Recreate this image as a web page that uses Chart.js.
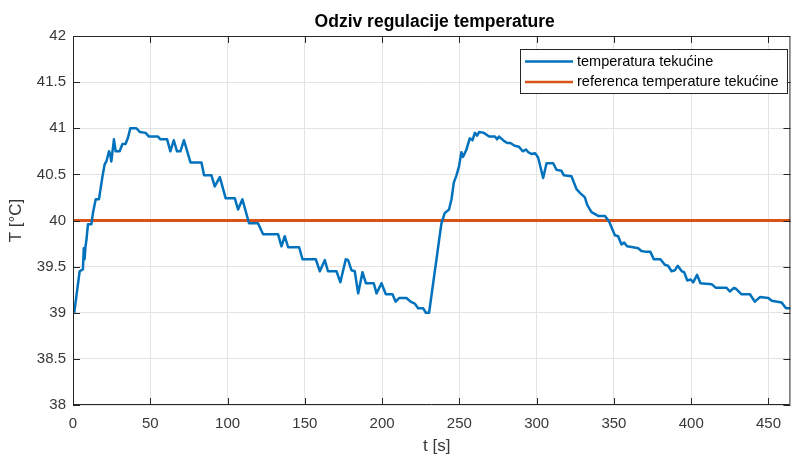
<!DOCTYPE html>
<html>
<head>
<meta charset="utf-8">
<script src="https://cdn.jsdelivr.net/npm/chart.js@4/dist/chart.umd.min.js"></script>
<style>
html,body{margin:0;padding:0;background:#fff;}
#wrap{width:791px;height:458px;position:relative;}
</style>
</head>
<body>
<div id="wrap"><canvas id="c" width="791" height="458"></canvas></div>
<script>
const chartTitle = "Odziv regulacije temperature";
const xLabel = "t [s]";
const yLabel = "T [°C]";
const seriesNames = ["temperatura tekućine", "referenca temperature tekućine"];
const xTicks = [0, 50, 100, 150, 200, 250, 300, 350, 400, 450];
const yTicks = [38, 38.5, 39, 39.5, 40, 40.5, 41, 41.5, 42];

const tempTimes = [0.8,1.2,4.3,6.4,7.0,7.5,8.1,8.7,9.7,11.9,13.0,14.7,16.8,19.0,20.5,21.6,23.3,24.0,24.8,26.5,27.6,30.2,32.0,34.0,35.6,37.1,41.0,43.2,47.0,49.2,55.0,56.6,60.9,63.0,65.2,67.3,69.5,71.8,76.0,83.1,84.8,89.6,91.7,95.0,98.8,104.7,106.8,109.6,113.9,119.7,123.0,132.7,134.9,137.0,139.2,146.3,148.5,157.1,159.7,162.9,165.0,170.5,173.0,176.5,178.0,180.2,182.3,184.5,187.3,189.5,194.6,196.4,199.6,202.4,206.7,208.8,211.0,215.8,218.4,221.1,223.3,226.5,228.3,230.4,234.1,235.2,236.9,238.4,240.5,243.3,244.9,246.4,248.1,249.8,251.3,252.4,254.6,256.7,258.5,260.0,261.5,262.8,265.8,269.3,273.0,274.4,275.7,279.0,281.0,283.0,285.8,288.5,291.0,293.1,294.6,296.8,299.0,301.0,304.2,306.4,310.7,312.8,316.0,317.6,322.5,325.8,328.0,331.2,332.7,335.5,339.8,344.1,346.9,349.1,350.6,352.7,354.9,356.6,358.5,362.4,365.7,367.8,371.0,373.6,375.8,380.1,382.9,385.0,387.3,389.4,391.3,393.9,395.4,397.5,399.7,401.3,403.8,406.0,413.2,416.0,422.9,425.0,427.6,429.0,432.6,438.0,441.2,444.5,449.9,452.1,458.5,461.3,464.5];
const tempValues = [39.00,39.00,39.45,39.47,39.70,39.58,39.72,39.79,39.96,39.96,40.09,40.23,40.23,40.47,40.61,40.64,40.75,40.72,40.64,40.88,40.75,40.75,40.83,40.83,40.90,41.00,41.00,40.96,40.95,40.91,40.91,40.88,40.88,40.75,40.87,40.75,40.75,40.87,40.63,40.63,40.49,40.49,40.37,40.47,40.24,40.24,40.12,40.23,39.97,39.97,39.85,39.85,39.72,39.83,39.71,39.71,39.58,39.58,39.45,39.57,39.45,39.45,39.33,39.58,39.57,39.46,39.45,39.21,39.44,39.32,39.32,39.21,39.32,39.20,39.20,39.12,39.16,39.16,39.12,39.10,39.05,39.05,39.00,39.00,39.45,39.58,39.79,39.97,40.08,40.12,40.23,40.41,40.49,40.59,40.74,40.69,40.77,40.89,40.87,40.95,40.92,40.96,40.95,40.91,40.91,40.88,40.91,40.86,40.84,40.84,40.81,40.80,40.75,40.77,40.74,40.72,40.73,40.68,40.46,40.62,40.62,40.55,40.54,40.49,40.48,40.34,40.30,40.25,40.17,40.09,40.05,40.05,39.99,39.90,39.84,39.83,39.74,39.76,39.72,39.71,39.70,39.67,39.66,39.66,39.58,39.58,39.52,39.51,39.45,39.46,39.51,39.45,39.44,39.35,39.36,39.33,39.41,39.32,39.31,39.27,39.27,39.23,39.27,39.26,39.20,39.20,39.12,39.17,39.16,39.13,39.11,39.05,39.05];
const refTimes = [0, 464.5];
const refValues = [40, 40];

const X_MIN = 0, X_MAX = 464.2, Y_MIN = 38, Y_MAX = 42;
const BLUE = "#0072BD", ORANGE = "#D95319";
const AXIS = "#262626", TXT = "#383838", GRID = "#e3e3e3";
const FONT = "'Liberation Sans', Arial, Helvetica, sans-serif";

const zip = (xs, ys) => xs.map((x, i) => ({x: x, y: ys[i]}));

const decor = {
  id: 'decor',
  afterDraw(chart) {
    const ctx = chart.ctx, a = chart.chartArea;
    const xs = chart.scales.x, ys = chart.scales.y;
    ctx.save();
    // box
    ctx.strokeStyle = AXIS; ctx.lineWidth = 1;
    ctx.beginPath();
    ctx.moveTo(a.left + 0.5, a.top + 0.5); ctx.lineTo(a.right - 0.5, a.top + 0.5);
    ctx.lineTo(a.right - 0.5, a.bottom - 0.5); ctx.lineTo(a.left + 0.5, a.bottom - 0.5);
    ctx.closePath(); ctx.stroke();
    // inward ticks
    const TL = 7;
    ctx.beginPath();
    xTicks.forEach(v => {
      const px = Math.round(xs.getPixelForValue(v)) + 0.5;
      ctx.moveTo(px, a.bottom); ctx.lineTo(px, a.bottom - TL);
      ctx.moveTo(px, a.top); ctx.lineTo(px, a.top + TL);
    });
    yTicks.forEach(v => {
      const py = Math.round(ys.getPixelForValue(v)) + 0.5;
      ctx.moveTo(a.left, py); ctx.lineTo(a.left + TL, py);
      ctx.moveTo(a.right, py); ctx.lineTo(a.right - TL, py);
    });
    ctx.stroke();
    // title
    ctx.fillStyle = "#000";
    ctx.font = "bold 17.5px " + FONT;
    ctx.textAlign = "center"; ctx.textBaseline = "middle";
    ctx.fillText(chartTitle, (a.left + a.right) / 2 + 3, 22);
    // axis titles
    ctx.fillStyle = TXT;
    ctx.font = "17px " + FONT;
    ctx.fillText(xLabel, (a.left + a.right) / 2 + 5, 446);
    ctx.save();
    ctx.translate(16, (a.top + a.bottom) / 2);
    ctx.rotate(-Math.PI / 2);
    ctx.fillText(yLabel, 0, 0);
    ctx.restore();
    // legend
    const lx = 520, ly = 49, lw = 267, lh = 44;
    ctx.fillStyle = "#fff";
    ctx.fillRect(lx, ly, lw, lh);
    ctx.strokeStyle = AXIS; ctx.lineWidth = 1;
    ctx.strokeRect(lx + 0.5, ly + 0.5, lw, lh);
    const rows = [ly + 12.5, ly + 33];
    chart.data.datasets.forEach((ds, i) => {
      ctx.strokeStyle = ds.borderColor; ctx.lineWidth = 2.5;
      ctx.beginPath(); ctx.moveTo(525, rows[i]); ctx.lineTo(573, rows[i]); ctx.stroke();
      ctx.fillStyle = "#000"; ctx.font = "14.5px " + FONT;
      ctx.textAlign = "left"; ctx.textBaseline = "middle";
      ctx.fillText(ds.label, 577, rows[i]);
    });
    ctx.restore();
  }
};

new Chart(document.getElementById('c'), {
  type: 'line',
  data: {
    datasets: [
      {label: seriesNames[0], data: zip(tempTimes, tempValues), borderColor: BLUE, borderWidth: 2.5,
       pointRadius: 0, tension: 0, borderJoinStyle: 'round', fill: false},
      {label: seriesNames[1], data: zip(refTimes, refValues), borderColor: ORANGE, borderWidth: 2.8,
       pointRadius: 0, tension: 0, fill: false}
    ]
  },
  options: {
    responsive: false,
    animation: false,
    events: [],
    layout: {padding: {top: 36, right: 0, left: 0, bottom: 0}},
    plugins: {legend: {display: false}, title: {display: false}, tooltip: {enabled: false}},
    scales: {
      x: {
        type: 'linear', min: X_MIN, max: X_MAX,
        afterBuildTicks: s => { s.ticks = xTicks.map(v => ({value: v})); },
        afterFit: s => { s.height = 53; },
        grid: {color: GRID, drawTicks: false, lineWidth: 1},
        border: {display: false},
        ticks: {color: TXT, font: {size: 15, family: FONT}, padding: 10, maxRotation: 0, autoSkip: false}
      },
      y: {
        type: 'linear', min: Y_MIN, max: Y_MAX,
        afterBuildTicks: s => { s.ticks = yTicks.map(v => ({value: v})); },
        afterFit: s => { s.width = 73; },
        grid: {color: GRID, drawTicks: false, lineWidth: 1},
        border: {display: false},
        ticks: {color: TXT, font: {size: 15, family: FONT}, padding: 7, autoSkip: false,
                callback: v => String(v)}
      }
    }
  },
  plugins: [decor]
});
</script>
</body>
</html>
